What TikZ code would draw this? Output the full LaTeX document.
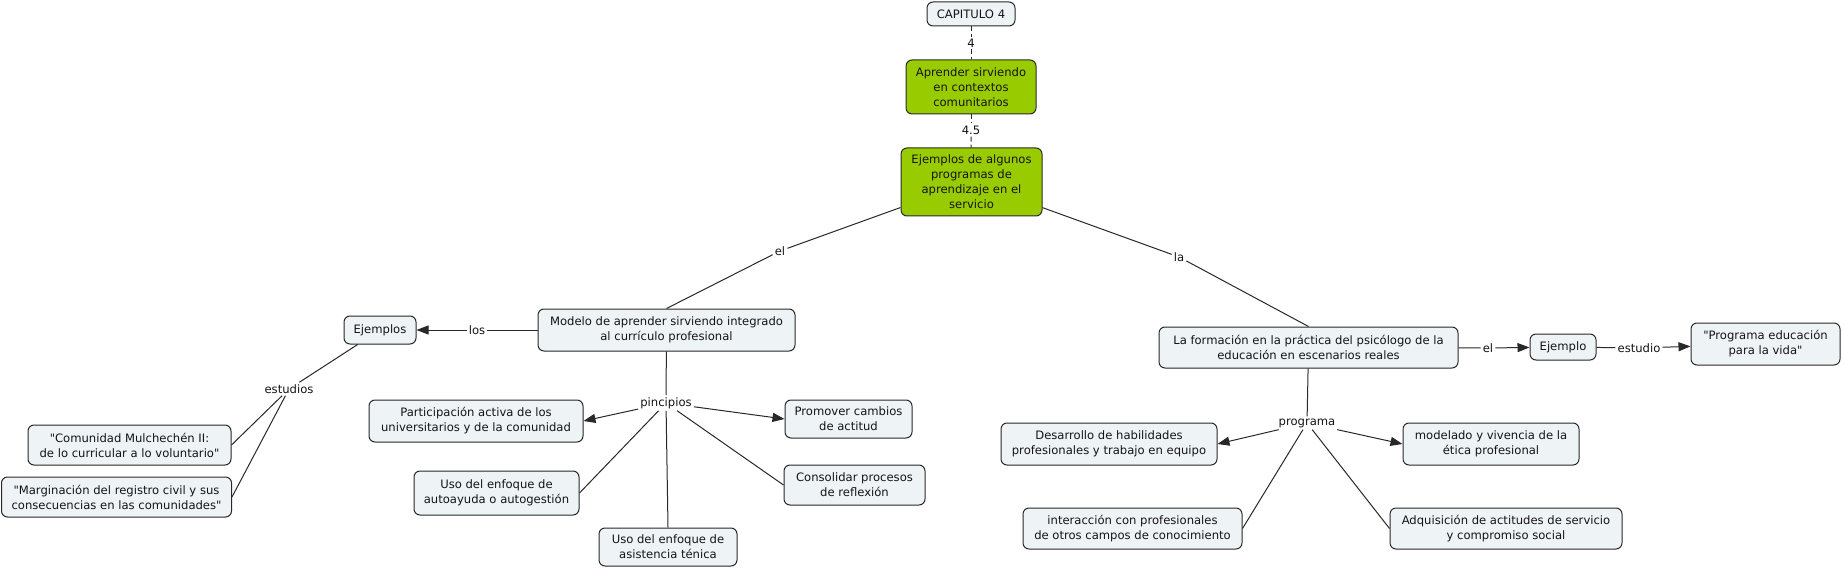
\documentclass[tikz,border=0pt]{standalone}
\usepackage{fontspec}
\newfontfamily\vfont{DejaVu Sans}
\usetikzlibrary{arrows.meta}
\definecolor{boxfill}{RGB}{238,243,246}
\definecolor{greenfill}{RGB}{153,204,0}
\definecolor{edge}{RGB}{40,40,40}
\definecolor{txt}{RGB}{20,20,20}
\begin{document}
\begin{tikzpicture}[x=1pt,y=-1pt,
  every node/.style={font=\vfont\fontsize{11.6}{15}\selectfont, text=txt},
  concept/.style={draw=edge, line width=1pt, fill=boxfill, rounded corners=6pt,
    align=center, inner sep=0pt},
  gconcept/.style={concept, fill=greenfill},
  lbl/.style={inner sep=2pt, fill=white},
  link/.style={draw=edge, line width=1pt},
  arr/.style={link, -{Triangle[length=12pt,width=9pt]}},
  dlink/.style={link, dash pattern=on 5pt off 3pt}]
\useasboundingbox (0,0) rectangle (1843,569);
% concepts
\node[concept, minimum width=88pt, minimum height=24pt] (cap) at (971,14) {CAPITULO 4};
\node[gconcept, minimum width=130pt, minimum height=54pt] (apr) at (971,87) {Aprender sirviendo\\en contextos\\comunitarios};
\node[gconcept, minimum width=141pt, minimum height=68pt] (ejs) at (971.5,182) {Ejemplos de algunos\\programas de\\aprendizaje en el\\servicio};
\node[concept, minimum width=257pt, minimum height=42pt] (mod) at (666.5,330) {Modelo de aprender sirviendo integrado\\al currículo profesional};
\node[concept, minimum width=72pt, minimum height=28pt] (ejl) at (380,330) {Ejemplos};
\node[concept, minimum width=203pt, minimum height=40pt] (com) at (129.5,445) {"Comunidad Mulchechén II:\\de lo curricular a lo voluntario"};
\node[concept, minimum width=230pt, minimum height=40pt] (mar) at (116.5,497) {"Marginación del registro civil y sus\\consecuencias en las comunidades"};
\node[concept, minimum width=214pt, minimum height=42pt] (par) at (476,421) {Participación activa de los\\universitarios y de la comunidad};
\node[concept, minimum width=127pt, minimum height=38pt] (pro) at (848.5,419) {Promover cambios\\de actitud};
\node[concept, minimum width=165pt, minimum height=44pt] (aut) at (496.5,493) {Uso del enfoque de\\autoayuda o autogestión};
\node[concept, minimum width=141pt, minimum height=40pt] (con) at (854.5,485) {Consolidar procesos\\de reflexión};
\node[concept, minimum width=138pt, minimum height=38pt] (asi) at (668,547) {Uso del enfoque de\\asistencia ténica};
\node[concept, minimum width=299pt, minimum height=41pt] (laf) at (1308.5,347.5) {La formación en la práctica del psicólogo de la\\educación en escenarios reales};
\node[concept, minimum width=66pt, minimum height=26pt] (ejr) at (1563,347) {Ejemplo};
\node[concept, minimum width=149pt, minimum height=42pt] (pev) at (1765.5,344) {"Programa educación\\para la vida"};
\node[concept, minimum width=216pt, minimum height=42pt] (des) at (1109,444) {Desarrollo de habilidades\\profesionales y trabajo en equipo};
\node[concept, minimum width=176pt, minimum height=42pt] (mdv) at (1491,444) {modelado y vivencia de la\\ética profesional};
\node[concept, minimum width=219pt, minimum height=41pt] (int) at (1132.5,528.5) {interacción con profesionales\\de otros campos de conocimiento};
\node[concept, minimum width=232pt, minimum height=41pt] (adq) at (1506,528.5) {Adquisición de actitudes de servicio\\y compromiso social};
% linking phrases
\node[lbl] (l4) at (971,43) {4};
\node[lbl] (l45) at (971,130) {4.5};
\node[lbl] (lel) at (780,251) {el};
\node[lbl] (lla) at (1179,257) {la};
\node[lbl] (llos) at (477,330) {los};
\node[lbl] (lest) at (289,389) {estudios};
\node[lbl] (lpin) at (666,403) {pincipios};
\node[lbl] (lprog) at (1307,423) {programa};
\node[lbl] (lel2) at (1488,348) {el};
\node[lbl] (lestu) at (1639,348) {estudio};
% connectors
\draw[dlink] (cap) -- (l4);
\draw[dlink] (l4) -- (apr);
\draw[dlink] (apr) -- (l45);
\draw[dlink] (l45) -- (ejs);
\draw[link] (ejs) -- (lel);
\draw[link] (lel) -- (mod.north);
\draw[link] (ejs) -- (lla);
\draw[link] (lla) -- (laf.north);
\draw[link] (mod) -- (llos);
\draw[arr] (llos) -- (ejl);
\draw[link] (ejl) -- (lest);
\draw[link] (lest) -- (com.east);
\draw[link] (lest) -- (mar.east);
\draw[link] (mod) -- (lpin);
\draw[arr] (lpin) -- (par.east);
\draw[arr] (lpin) -- (pro.west);
\draw[link] (lpin) -- (aut.east);
\draw[link] (lpin) -- (asi.north);
\draw[link] (lpin) -- (con.west);
\draw[link] (laf) -- (lprog);
\draw[arr] (lprog) -- (des.east);
\draw[arr] (lprog) -- (mdv.west);
\draw[link] (lprog) -- (int.east);
\draw[link] (lprog) -- (adq.west);
\draw[link] (laf) -- (lel2);
\draw[arr] (lel2) -- (ejr);
\draw[link] (ejr) -- (lestu);
\draw[arr] (lestu) -- (pev);
\end{tikzpicture}
\end{document}
